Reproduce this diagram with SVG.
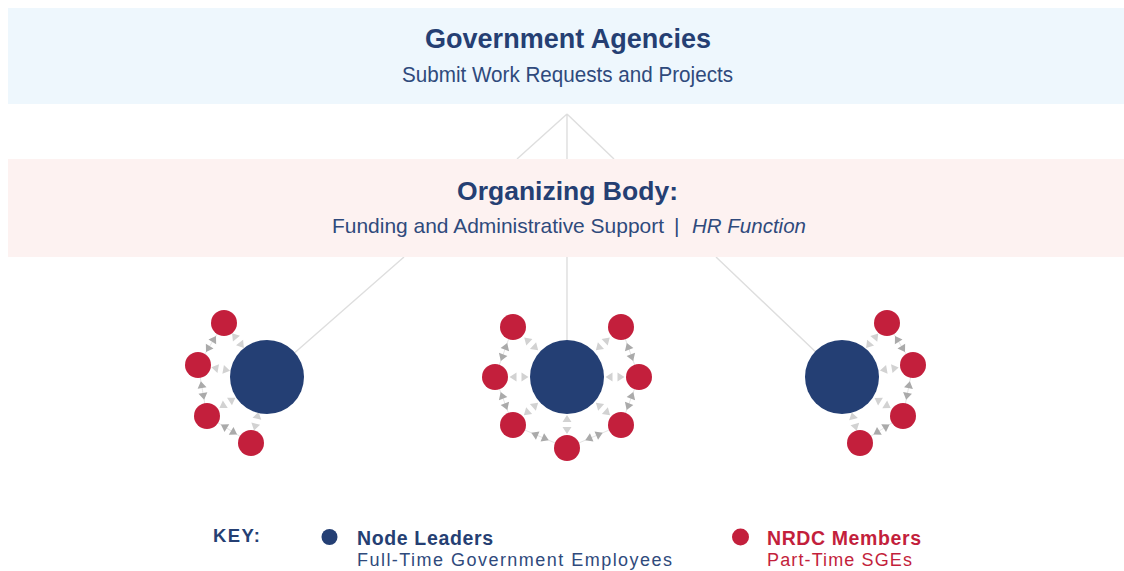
<svg xmlns="http://www.w3.org/2000/svg" width="1124" height="571" viewBox="0 0 1124 571">
<style>
.t{font-family:"Liberation Sans",Arial,sans-serif}
.b{font-weight:bold}
.navy{fill:#253f73}
.sub{fill:#2f4a7c}
.red{fill:#c31f3c}
.lead{fill:#243f74}
.mem{fill:#c31f3c}
.link{stroke:#dedede;stroke-width:1.4;fill:none}
.rr{stroke:#e4e4e4;stroke-width:1;fill:none;marker-mid:url(#pd)}
.br{stroke:none;fill:none;marker-mid:url(#pl)}
</style>
<defs>
<marker id="pd" viewBox="-11 -6 22 12" markerWidth="22" markerHeight="12" refX="0" refY="0" orient="auto" markerUnits="userSpaceOnUse"><path d="M2.5,-4.5 L9.5,0 L2.5,4.5 Z M-2.5,-4.5 L-9.5,0 L-2.5,4.5 Z" fill="#aaaaaa"/></marker>
<marker id="pl" viewBox="-11 -6 22 12" markerWidth="22" markerHeight="12" refX="0" refY="0" orient="auto" markerUnits="userSpaceOnUse"><path d="M2.5,-4.5 L9.5,0 L2.5,4.5 Z M-2.5,-4.5 L-9.5,0 L-2.5,4.5 Z" fill="#d2d2d2"/></marker>
</defs>
<rect width="1124" height="571" fill="#ffffff"/>
<g id="connectors">
<path class="link" d="M567,114 L517,159 M567,114 L567,159 M567,114 L614,159"/>
<path class="link" d="M404,257 L267,377 M567,257 L567,377 M716,257 L842,377"/>
<path class="rr" d="M224,323 L211,344 L198,365"/>
<path class="rr" d="M198,365 L202.5,390.5 L207,416"/>
<path class="rr" d="M207,416 L229,429.5 L251,443"/>
<path class="br" d="M267,377 L238,340.6 L224,323"/>
<path class="br" d="M267,377 L220.7,369 L198,365"/>
<path class="br" d="M267,377 L227.4,402.8 L207,416"/>
<path class="br" d="M267,377 L256.3,421.2 L251,443"/>
<path class="rr" d="M513,327 L504,352 L495,377"/>
<path class="rr" d="M495,377 L504,401 L513,425"/>
<path class="rr" d="M513,425 L540,436.5 L567,448"/>
<path class="rr" d="M567,448 L594,436.5 L621,425"/>
<path class="rr" d="M621,425 L630,401 L639,377"/>
<path class="rr" d="M639,377 L630,352 L621,327"/>
<path class="br" d="M567,377 L531.2,343.9 L513,327"/>
<path class="br" d="M567,377 L519,377 L495,377"/>
<path class="br" d="M567,377 L531,409 L513,425"/>
<path class="br" d="M567,377 L567,424.5 L567,448"/>
<path class="br" d="M567,377 L603,409 L621,425"/>
<path class="br" d="M567,377 L615,377 L639,377"/>
<path class="br" d="M567,377 L602.8,343.9 L621,327"/>
<path class="rr" d="M887,323 L900,344 L913,365"/>
<path class="rr" d="M913,365 L908,390.5 L903,416"/>
<path class="rr" d="M903,416 L881.5,429.5 L860,443"/>
<path class="br" d="M842,377 L872.2,340.8 L887,323"/>
<path class="br" d="M842,377 L889.3,369 L913,365"/>
<path class="br" d="M842,377 L882.6,403 L903,416"/>
<path class="br" d="M842,377 L854.2,421.6 L860,443"/>
</g>
<g id="government-agencies">
<rect x="8" y="8" width="1116" height="96" fill="#eef7fd"/>
<text class="t b navy" x="425" y="48" font-size="27" textLength="286" lengthAdjust="spacingAndGlyphs">Government Agencies</text>
<text class="t sub" x="402" y="82" font-size="21.5" textLength="331" lengthAdjust="spacingAndGlyphs">Submit Work Requests and Projects</text>
</g>
<g id="organizing-body">
<rect x="8" y="159" width="1116" height="98" fill="#fdf2f1"/>
<text class="t b navy" x="457" y="200" font-size="26" textLength="221" lengthAdjust="spacingAndGlyphs">Organizing Body:</text>
<text class="t sub" x="332" y="233" font-size="21"><tspan textLength="332" lengthAdjust="spacingAndGlyphs">Funding and Administrative Support</tspan><tspan x="674">|</tspan><tspan x="692" font-style="italic" textLength="114" lengthAdjust="spacingAndGlyphs">HR Function</tspan></text>
</g>
<g id="cluster-left">
<circle class="lead" cx="267" cy="377" r="37"/>
<circle class="mem" cx="224" cy="323" r="13"/>
<circle class="mem" cx="198" cy="365" r="13"/>
<circle class="mem" cx="207" cy="416" r="13"/>
<circle class="mem" cx="251" cy="443" r="13"/>
</g>
<g id="cluster-center">
<circle class="lead" cx="567" cy="377" r="37"/>
<circle class="mem" cx="513" cy="327" r="13"/>
<circle class="mem" cx="495" cy="377" r="13"/>
<circle class="mem" cx="513" cy="425" r="13"/>
<circle class="mem" cx="567" cy="448" r="13"/>
<circle class="mem" cx="621" cy="425" r="13"/>
<circle class="mem" cx="639" cy="377" r="13"/>
<circle class="mem" cx="621" cy="327" r="13"/>
</g>
<g id="cluster-right">
<circle class="lead" cx="842" cy="377" r="37"/>
<circle class="mem" cx="887" cy="323" r="13"/>
<circle class="mem" cx="913" cy="365" r="13"/>
<circle class="mem" cx="903" cy="416" r="13"/>
<circle class="mem" cx="860" cy="443" r="13"/>
</g>
<g id="key">
<text class="t b navy" x="213" y="542" font-size="18.5" textLength="47" lengthAdjust="spacing">KEY:</text>
<circle class="lead" cx="329.5" cy="537" r="8"/>
<text class="t b navy" x="357" y="545" font-size="19.5" textLength="136" lengthAdjust="spacing">Node Leaders</text>
<text class="t sub" x="357" y="566" font-size="18" textLength="315" lengthAdjust="spacing">Full-Time Government Employees</text>
<circle class="mem" cx="740.5" cy="537" r="8.5"/>
<text class="t b red" x="767" y="545" font-size="19.5" textLength="154" lengthAdjust="spacing">NRDC Members</text>
<text class="t red" x="767" y="566" font-size="18" textLength="145" lengthAdjust="spacing">Part-Time SGEs</text>
</g>
</svg>
